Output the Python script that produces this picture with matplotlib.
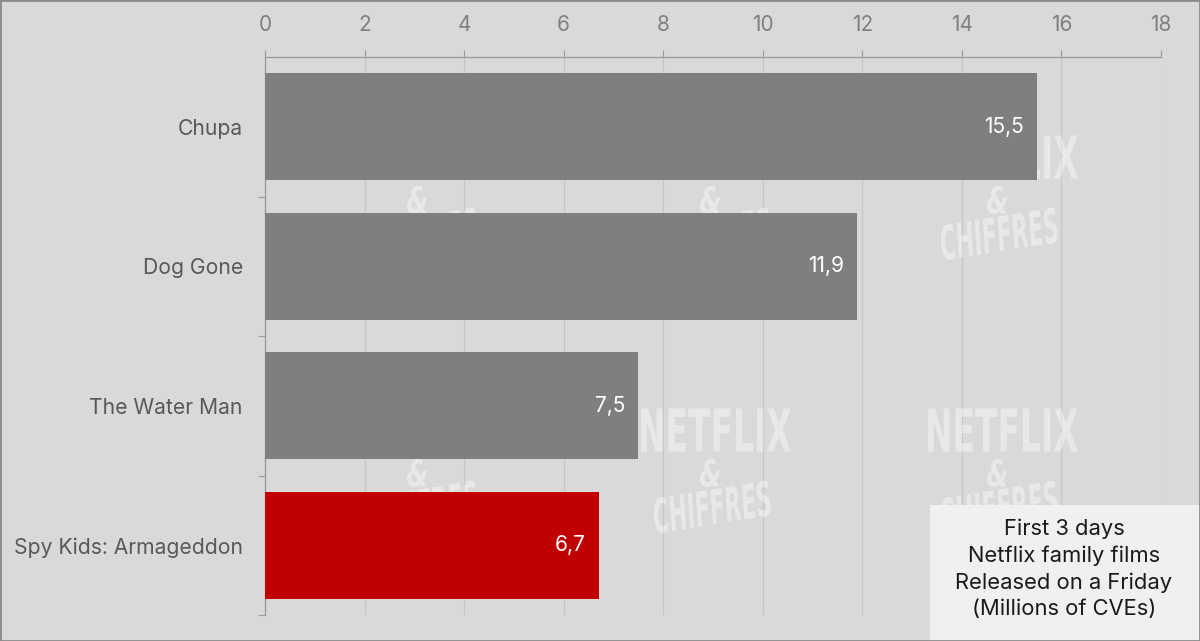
import matplotlib
matplotlib.use("Agg")
import matplotlib.pyplot as plt
from matplotlib.patches import Rectangle, PathPatch
from matplotlib.textpath import TextPath
from matplotlib.font_manager import FontProperties
from matplotlib.transforms import Affine2D

categories = ["Chupa", "Dog Gone", "The Water Man", "Spy Kids: Armageddon"]
values = [15.5, 11.9, 7.5, 6.7]
bar_colors = ["#7f7f7f", "#7f7f7f", "#7f7f7f", "#c00000"]
xticks = [0, 2, 4, 6, 8, 10, 12, 14, 16, 18]
note_lines = ["First 3 days", "Netflix family films", "Released on a Friday", "(Millions of CVEs)"]

plt.rcParams['font.family'] = ['Inter', 'DejaVu Sans']

W, H = 1200, 641
fig = plt.figure(figsize=(12, 6.41), dpi=100, facecolor="#d9d9d9")
ax = fig.add_axes([265/W, 1-615/H, (1161-265)/W, (615-57)/H])
ax.set_facecolor("#d9d9d9")

n = len(categories)
ypos = list(range(n))
ax.barh(ypos, values, height=0.77, color=bar_colors, zorder=3)
ax.set_ylim(n - 0.5, -0.5)
ax.set_xlim(0, 18)

for y, v in zip(ypos, values):
    ax.text(v - 0.26, y, f"{v:.1f}".replace(".", ","), ha="right", va="center",
            color="white", fontsize=15, zorder=4)

ax.xaxis.tick_top()
ax.set_xticks(xticks)
ax.set_xticklabels([str(t) for t in xticks], fontsize=15, color="#808080")
ax.tick_params(axis="x", length=5, color="#999999", pad=11, width=0.8)
ax.grid(axis="x", color="#c6c6c6", linewidth=0.8, zorder=1)

ax.set_yticks(ypos)
ax.set_yticklabels(categories, fontsize=15.2, color="#595959")
ax.tick_params(axis="y", length=0, pad=16)
ax.set_yticks([i + 0.5 for i in range(n)], minor=True)
ax.tick_params(axis="y", which="minor", length=5, color="#999999", width=0.8)

for s in ["right", "bottom"]:
    ax.spines[s].set_visible(False)
ax.spines["top"].set_color("#999999")
ax.spines["top"].set_linewidth(0.9)
ax.spines["left"].set_color("#999999")
ax.spines["left"].set_linewidth(0.9)

# watermarks (behind the bars), drawn as scaled text paths in pixel space
def stamp(text, cx, cy, w, h, rot=0, italic=False):
    fp = FontProperties(family="DejaVu Sans", weight="bold",
                        style="italic" if italic else "normal")
    tp = TextPath((0, 0), text, size=10, prop=fp)
    bb = tp.get_extents()
    tr = (Affine2D()
          .translate(-(bb.x0 + bb.width / 2), -(bb.y0 + bb.height / 2))
          .scale(w / bb.width, h / bb.height)
          .rotate_deg(rot)
          .translate(cx, H - cy))
    p = PathPatch(tp, facecolor="white", edgecolor="none", alpha=0.42,
                  zorder=2, clip_on=False)
    p.set_transform(tr)
    ax.add_artist(p)

for cx in [423, 716, 1003]:
    for cy in [157, 430]:
        stamp("NETFLIX", cx, cy, 150, 43)
        stamp("&", cx - 6, cy + 43, 20, 28, italic=True)
        stamp("CHIFFRES", cx - 4, cy + 77, 118, 36, rot=9, italic=True)

# note box
fig.patches.append(Rectangle((930/W, 0), 270/W, 136/H, transform=fig.transFigure,
                             facecolor="#f0f0f0", edgecolor="none", zorder=5))
fig.text(1064/W, 1-569/H, "\n".join(note_lines), ha="center", va="center",
         fontsize=15.8, color="#1a1a1a", linespacing=1.38, zorder=6)

fig.patches.append(Rectangle((0, 0), 1, 1, transform=fig.transFigure, fill=False,
                             edgecolor="#8c8c8c", linewidth=2, zorder=10))

fig.savefig("out.png", dpi=100, facecolor=fig.get_facecolor())
